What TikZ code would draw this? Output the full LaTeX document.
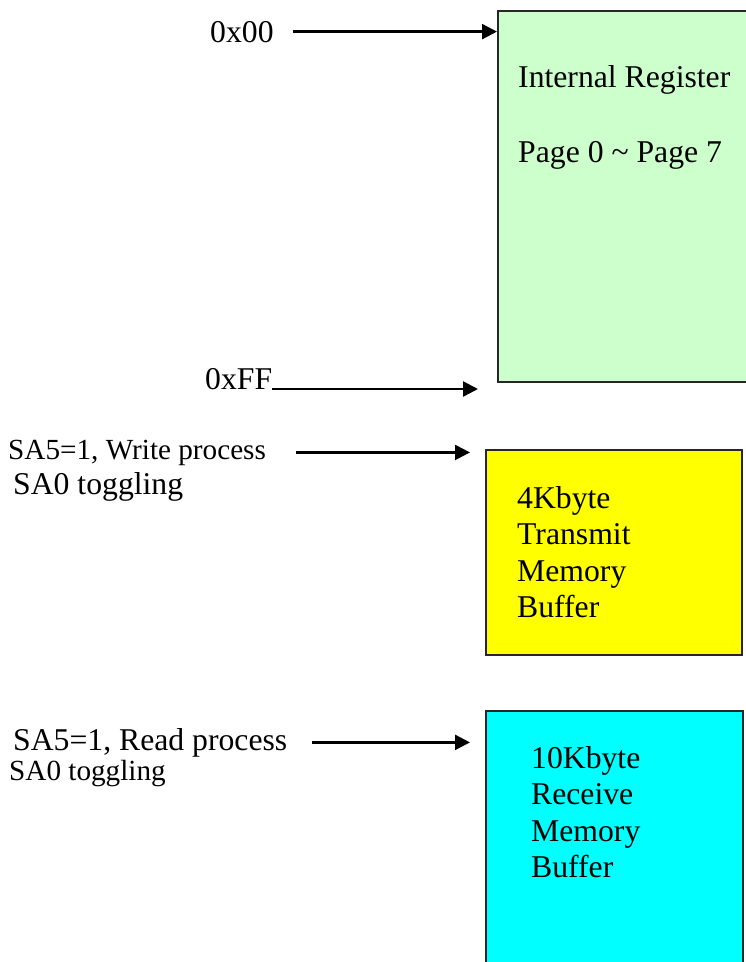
\documentclass[tikz,border=0pt]{standalone}
\usepackage{fontspec}
\setmainfont{Liberation Serif}
\usetikzlibrary{positioning}
\usetikzlibrary{arrows.meta}
\definecolor{regfill}{HTML}{CCFFCC}
\definecolor{txfill}{HTML}{FFFF00}
\definecolor{rxfill}{HTML}{00FFFF}
\tikzset{
    membox/.style = {rectangle, line width=1.6pt, draw=black!85, anchor=north west, inner sep=0pt},
    lbl/.style = {anchor=base west, inner sep=0pt, font=\fontsize{31.7}{36.5}\selectfont},
    lbls/.style = {anchor=base west, inner sep=0pt, font=\fontsize{29.2}{33.6}\selectfont},
    edgen/.style = {-{Triangle[length=15pt,width=15pt]}, line width=2.3pt}
}

\begin{document}
\begin{tikzpicture}[x=1pt,y=-1pt]
  \useasboundingbox (0,0) rectangle (746,962);
  \clip (0,0) rectangle (746,962);

  % memory blocks
  \node[membox, fill=regfill, minimum width=270pt, minimum height=371pt] at (497,10) (reg) {};
  \node[membox, fill=txfill, minimum width=256pt, minimum height=205pt] at (485,449) (txbuf) {};
  \node[membox, fill=rxfill, minimum width=257pt, minimum height=270pt] at (485,710) (rxbuf) {};

  \node[lbl] at (518,87) (regtxt) {\begin{tabular}[t]{@{}l@{}}Internal Register\\[38.5pt]Page 0 \textasciitilde{} Page 7\end{tabular}};
  \node[lbl] at (517,508) (txtxt) {\begin{tabular}[t]{@{}l@{}}4Kbyte\\Transmit\\Memory\\Buffer\end{tabular}};
  \node[lbl] at (531,768) (rxtxt) {\begin{tabular}[t]{@{}l@{}}10Kbyte\\Receive\\Memory\\Buffer\end{tabular}};

  % address labels
  \node[lbl] at (210,42) (hex00) {0x00};
  \node[lbl] at (205,389) (hexff) {0xFF};
  \node[lbls] at (8,459) (wrproc) {SA5=1, Write process};
  \node[lbl] at (13,494) (wrtog) {SA0 toggling};
  \node[lbl] at (13,750) (rdproc) {SA5=1, Read process};
  \node[lbls] at (9,780) (rdtog) {SA0 toggling};

  \draw[edgen, shorten <=19pt] (hex00.east) -- (reg.west |- hex00.east);
  \draw[edgen, shorten >=19pt] (hexff.base east) -- (reg.west |- hexff.base east);
  \draw[edgen, shorten <=30pt, shorten >=15pt] (wrproc.east) -- (txbuf.west |- wrproc.east);
  \draw[edgen, shorten <=25pt, shorten >=15pt] (rdproc.east) -- (rxbuf.west |- rdproc.east);

\end{tikzpicture}
\end{document}
